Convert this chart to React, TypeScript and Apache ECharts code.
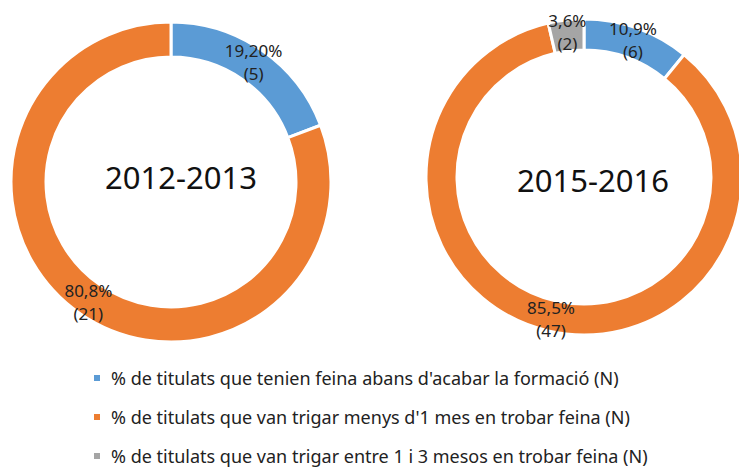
import React, { useEffect, useRef } from "react";
import * as echarts from "echarts";

const categories = [
  "% de titulats que tenien feina abans d'acabar la formació (N)",
  "% de titulats que van trigar menys d'1 mes en trobar feina (N)",
  "% de titulats que van trigar entre 1 i 3 mesos en trobar feina (N)",
];
const colors = ["#5B9BD5", "#ED7D31", "#A5A5A5"];
const years = ["2012-2013", "2015-2016"];
const counts2012 = [5, 21];
const pct2012 = ["19,20%", "80,8%"];
const counts2015 = [6, 47, 2];
const pct2015 = ["10,9%", "85,5%", "3,6%"];

const FONT = "'Noto Sans', sans-serif";

function buildData(counts: number[], pcts: string[]) {
  return counts.map((v, i) => ({
    name: categories[i],
    value: v,
    pct: pcts[i],
    itemStyle: { color: colors[i] },
  }));
}

export default function App() {
  const ref = useRef<HTMLDivElement>(null);
  useEffect(() => {
    if (!ref.current) return;
    const chart = echarts.init(ref.current, undefined, { renderer: "svg" });
    const pieBase = {
      type: "pie",
      startAngle: 90,
      clockwise: true,
      avoidLabelOverlap: false,
      itemStyle: { borderColor: "#fff", borderWidth: 3 },
      label: {
        show: true,
        position: "inside",
        formatter: (p: any) => `${p.data.pct}\n(${p.value})`,
        color: "#222",
        fontSize: 17,
        lineHeight: 23,
        fontFamily: FONT,
      },
      labelLine: { show: false },
      emphasis: { disabled: true },
    };
    chart.setOption({
      animation: false,
      legend: {
        orient: "vertical",
        left: 92,
        top: 368,
        height: 100,
        padding: 0,
        itemGap: 19,
        icon: "rect",
        itemWidth: 8,
        itemHeight: 8,
        data: categories,
        textStyle: {
          fontSize: 18,
          lineHeight: 20,
          color: "#222",
          fontFamily: FONT,
          padding: [0, 0, 0, 5],
        },
        selectedMode: false,
      },
      graphic: [
        {
          type: "text",
          x: 181,
          y: 177,
          style: {
            text: years[0],
            fontSize: 31,
            fontFamily: FONT,
            fill: "#111",
            align: "center",
            verticalAlign: "middle",
          },
        },
        {
          type: "text",
          x: 593,
          y: 180,
          style: {
            text: years[1],
            fontSize: 31,
            fontFamily: FONT,
            fill: "#111",
            align: "center",
            verticalAlign: "middle",
          },
        },
      ],
      series: [
        {
          ...pieBase,
          center: [171, 182],
          radius: [125, 160],
          data: buildData(counts2012, pct2012),
        },
        {
          ...pieBase,
          center: [584, 177],
          radius: [127, 158],
          data: buildData(counts2015, pct2015),
        },
      ],
    });
    return () => chart.dispose();
  }, []);
  return (
    <div
      ref={ref}
      style={{ position: "fixed", left: 0, top: 0, width: 739, height: 470, background: "#fff" }}
    />
  );
}
